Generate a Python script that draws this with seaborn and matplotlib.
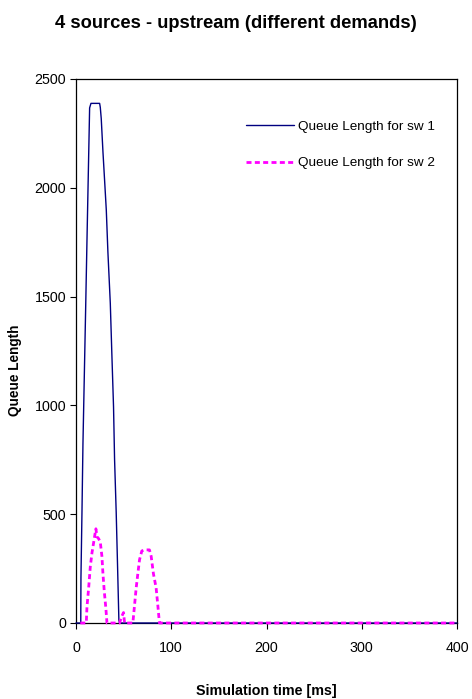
import matplotlib
matplotlib.use("Agg")
import matplotlib.pyplot as plt
import seaborn as sns
import pandas as pd

# ---- data ----
t_sw1 = [0, 5.0, 5.2, 6.3, 7.3, 8.7, 10.1, 11.5, 12.9, 14.3, 15.7, 24.8, 25.5,
         26.5, 28.3, 30.0, 31.8, 33.5, 36.0, 37.7, 39.4, 40.5, 42.2, 43.6, 45.0,
         45.6, 400]
q_sw1 = [0, 0, 210, 517, 824, 1131, 1438, 1753, 2060, 2367, 2388, 2388, 2370,
         2318, 2165, 2036, 1898, 1704, 1470, 1228, 994, 751, 509, 267, 16,
         0, 0]

t_sw2 = [4.5, 10.8, 11.5, 13.3, 15.0, 16.8, 18.6, 20.0, 20.9, 22.0, 23.7, 25.5,
         27.2, 28.3, 29.7, 31.4, 32.5, 45.7, 48.2, 49.9, 51.0, 59.7, 61.1, 63.2,
         64.9, 66.7, 69.1, 71.9, 77.1, 78.9, 81.3, 84.1, 85.9, 87.6, 400]
q_sw2 = [0, 0, 73, 162, 258, 323, 372, 410, 433, 396, 388, 372,
         307, 226, 145, 65, 0, 0, 32, 48, 0, 0, 65, 162,
         226, 291, 331, 336, 336, 307, 226, 162, 81, 0, 0]

label_sw1 = "Queue Length for sw 1"
label_sw2 = "Queue Length for sw 2"
title = "4 sources - upstream (different demands)"
xlabel = "Simulation time [ms]"
ylabel = "Queue Length"
x_ticks = [0, 100, 200, 300, 400]
y_ticks = [0, 500, 1000, 1500, 2000, 2500]

sns.set_style("ticks")
plt.rcParams['font.family'] = ['Liberation Sans', 'DejaVu Sans']
plt.rcParams['text.color'] = 'black'
plt.rcParams['axes.labelcolor'] = 'black'

fig = plt.figure(figsize=(4.72, 6.99), dpi=100)
ax = fig.add_axes([76 / 472, 1 - 623 / 699, 381 / 472, 544 / 699])

df1 = pd.DataFrame({"t": t_sw1, "q": q_sw1})
df2 = pd.DataFrame({"t": t_sw2, "q": q_sw2})

sns.lineplot(data=df1, x="t", y="q", ax=ax, color="#000080", linewidth=1.0,
             sort=False, estimator=None, label=label_sw1, clip_on=False, zorder=3)
sns.lineplot(data=df2, x="t", y="q", ax=ax, color="#FF00FF", linewidth=2.0,
             sort=False, estimator=None, label=label_sw2, clip_on=False, zorder=4,
             linestyle=(0, (1.8, 1.2)))

ax.set_xlim(0, 400)
ax.set_ylim(0, 2500)
ax.set_xticks(x_ticks)
ax.set_yticks(y_ticks)
ax.tick_params(axis='both', direction='out', length=4, width=0.8, colors='black',
               labelcolor='black', labelsize=10.3)
ax.tick_params(axis='x', pad=9)
ax.tick_params(axis='y', pad=3)
for s in ax.spines.values():
    s.set_visible(True)
    s.set_color('black')
    s.set_linewidth(0.9)

ax.set_xlabel(xlabel, fontsize=10.3, fontweight='bold', color='black')
ax.set_ylabel(ylabel, fontsize=9.8, fontweight='bold', color='black')
ax.xaxis.set_label_coords(0.5, -0.112)
ax.yaxis.set_label_coords(-0.142, 0.465)

fig.text(0.5, 1 - 24 / 699, title, ha='center', va='center',
         fontsize=13.2, fontweight='bold', color='black')

leg = ax.legend(loc='upper left', bbox_to_anchor=(0.446, 0.924), frameon=False,
                fontsize=9.7, handlelength=3.6, handletextpad=0.3,
                labelspacing=1.8, borderpad=0, borderaxespad=0)
for txt in leg.get_texts():
    txt.set_color('black')

fig.savefig("out.png", dpi=100, facecolor='white')
